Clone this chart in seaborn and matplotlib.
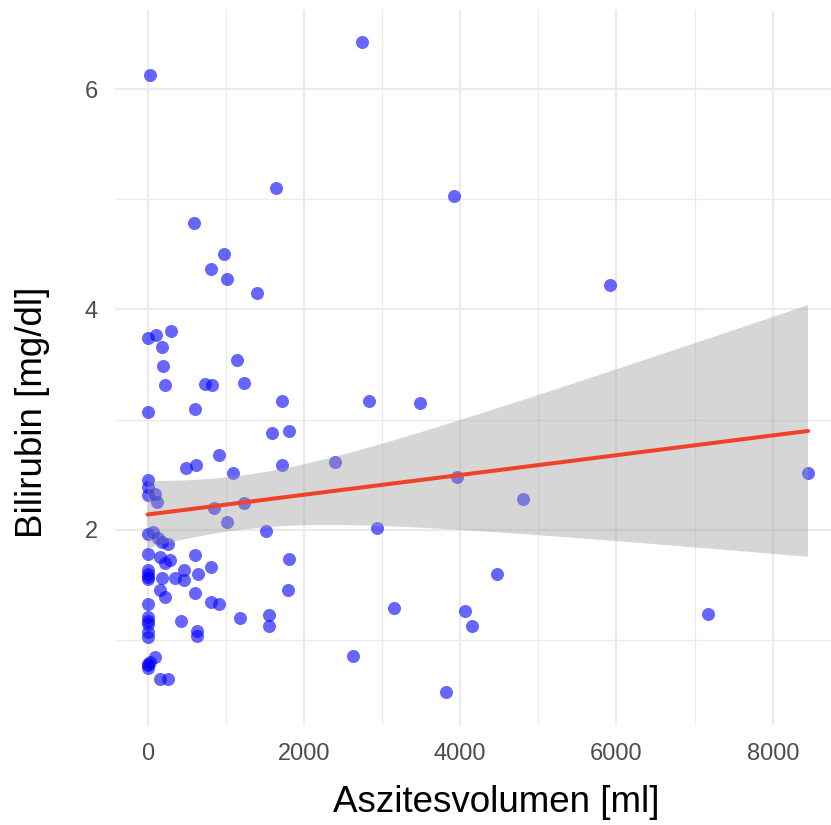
import matplotlib
matplotlib.use("Agg")
import matplotlib.pyplot as plt
import numpy as np
import pandas as pd
import seaborn as sns
from matplotlib.ticker import MultipleLocator

# Ascites volume [ml] and bilirubin [mg/dl] per patient
aszites_ml = [
    30, 2745, 1640, 3920, 598, 975, 808, 1016, 1396, 5915,
    0, 110, 300, 185, 195, 220, 6, 607, 735, 830,
    1140, 1234, 1716, 1596, 1813, 918, 492, 616, 1097, 1716,
    2398, 850, 1234, 1013, 1519, 2836, 3485, 3954, 4806, 2931,
    8450, 4473, 3152, 4060, 4153, 7171, 2632, 3813,
    0, 10, 0, 100, 120,
    0, 75, 140, 180, 266, 0, 160, 230, 288, 607,
    0, 10, 0, 180, 352, 467, 467, 650, 812,
    160, 224, 607, 812, 918,
    0, 0, 0, 0, 0, 428, 637, 637, 1183, 1558, 1558, 1800, 1810,
    96, 32, 10, 0, 160, 266,
    0, 0, 10,
]
bilirubin_mgdl = [
    6.13, 6.43, 5.10, 5.03, 4.79, 4.50, 4.37, 4.28, 4.15, 4.22,
    3.74, 3.77, 3.80, 3.66, 3.49, 3.31, 3.07, 3.10, 3.32, 3.31,
    3.54, 3.33, 3.17, 2.88, 2.90, 2.68, 2.56, 2.59, 2.51, 2.59,
    2.61, 2.20, 2.24, 2.07, 1.99, 3.17, 3.15, 2.48, 2.28, 2.01,
    2.51, 1.60, 1.29, 1.26, 1.12, 1.23, 0.85, 0.52,
    2.45, 2.39, 2.31, 2.32, 2.25,
    1.96, 1.98, 1.92, 1.89, 1.87, 1.78, 1.75, 1.70, 1.72, 1.77,
    1.63, 1.57, 1.55, 1.56, 1.56, 1.63, 1.54, 1.60, 1.66,
    1.45, 1.39, 1.42, 1.34, 1.32,
    1.32, 1.21, 1.14, 1.07, 1.02, 1.17, 1.08, 1.03, 1.20, 1.22, 1.12, 1.45, 1.73,
    0.84, 0.80, 0.74, 0.77, 0.64, 0.64,
    1.60, 1.17, 0.78,
]

x_ticks = [0, 2000, 4000, 6000, 8000]
y_ticks = [2, 4, 6]
x_title = "Aszitesvolumen [ml]"
y_title = "Bilirubin [mg/dl]"

df = pd.DataFrame({"aszites": aszites_ml, "bilirubin": bilirubin_mgdl})

sns.set_theme(style="white")
plt.rcParams["font.family"] = ["Liberation Sans", "DejaVu Sans"]

W, H = 831, 825
fig = plt.figure(figsize=(W / 100, H / 100), dpi=100)
# panel in pixel space: left 114.5, right 841, top 9.5, bottom 725
left, right, top, bottom = 114.5, 841.0, 9.5, 725.0
ax = fig.add_axes([left / W, 1 - bottom / H, (right - left) / W, (bottom - top) / H])
ax.set_facecolor("white")

sns.regplot(
    data=df, x="aszites", y="bilirubin", ax=ax, ci=None,
    scatter_kws=dict(color="blue", alpha=0.6, s=88, linewidths=0, zorder=1),
    line_kws=dict(color="#EE4328", linewidth=2.9, zorder=3),
)

# 95% confidence band of the linear fit (t-based, like lm)
x = df["aszites"].to_numpy(float)
y = df["bilirubin"].to_numpy(float)
n = len(x)
slope, intercept = np.polyfit(x, y, 1)
resid = y - (slope * x + intercept)
s_err = np.sqrt(np.sum(resid ** 2) / (n - 2))
sxx = np.sum((x - x.mean()) ** 2)
z = 1.959964
dof = n - 2
t_crit = z + (z ** 3 + z) / (4 * dof) + (5 * z ** 5 + 16 * z ** 3 + 3 * z) / (96 * dof ** 2)
grid = np.linspace(x.min(), x.max(), 200)
fit = slope * grid + intercept
half = t_crit * s_err * np.sqrt(1 / n + (grid - x.mean()) ** 2 / sxx)
ax.fill_between(grid, fit - half, fit + half, facecolor=(0.6, 0.6, 0.6),
                alpha=0.4, edgecolor="none", zorder=2)

xmin, xmax = min(aszites_ml), max(aszites_ml)
ymin, ymax = min(bilirubin_mgdl), max(bilirubin_mgdl)
xpad, ypad = 0.05 * (xmax - xmin), 0.05 * (ymax - ymin)
ax.set_xlim(xmin - xpad, xmax + xpad)
ax.set_ylim(ymin - ypad, ymax + ypad)

ax.set_xticks(x_ticks)
ax.set_yticks(y_ticks)
ax.set_xticklabels([str(t) for t in x_ticks])
ax.set_yticklabels([str(t) for t in y_ticks])
ax.xaxis.set_minor_locator(MultipleLocator(1000))
ax.yaxis.set_minor_locator(MultipleLocator(1))
ax.grid(True, which="major", color="#EBEBEB", linewidth=1.6)
ax.grid(True, which="minor", color="#EBEBEB", linewidth=0.9)
ax.set_axisbelow(True)
for sp in ax.spines.values():
    sp.set_visible(False)
ax.tick_params(which="both", length=0)
ax.tick_params(axis="x", pad=13, labelsize=17, labelcolor="#4D4D4D")
ax.tick_params(axis="y", pad=12, labelsize=17, labelcolor="#4D4D4D")

ax.set_xlabel(x_title, fontsize=26.5, color="black", va="center")
ax.set_ylabel(y_title, fontsize=26.5, color="black", va="center")
ax.xaxis.set_label_coords((496 - left) / (right - left), (bottom - 803) / (bottom - top))
ax.yaxis.set_label_coords((33 - left) / (right - left), (bottom - 412) / (bottom - top))

fig.savefig("out.png", dpi=100)
